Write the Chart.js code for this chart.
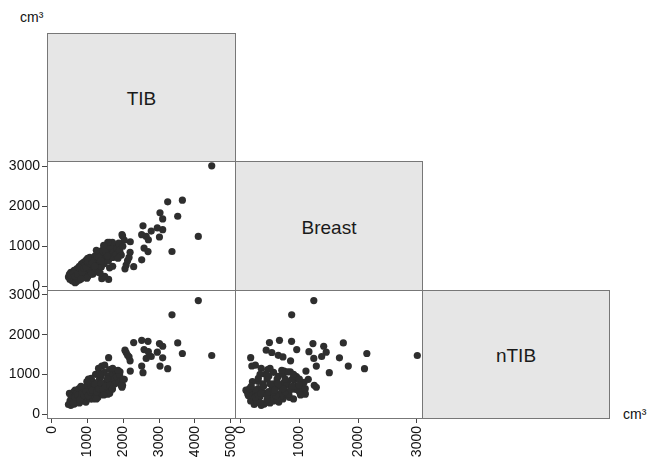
<!DOCTYPE html>
<html>
<head>
<meta charset="utf-8">
<script src="https://cdn.jsdelivr.net/npm/chart.js@4"></script>
<style>
  body { margin: 0; background: #fff; width: 649px; height: 462px; position: relative; overflow: hidden; font-family: 'Liberation Sans', Arial, sans-serif; }
  canvas { position: absolute; left: 0; top: 0; }
  .diag { position: absolute; box-sizing: border-box; background: #e6e6e6; border: 1px solid #777; display: flex; align-items: center; justify-content: center; font-size: 19px; color: #1a1a1a; padding-top: 3px; }
  .unit { position: absolute; font-size: 14px; line-height: 1; color: #111; }
</style>
</head>
<body>
<div class="unit" style="left:20px;top:10px">cm³</div>
<div class="unit" style="left:623px;top:407px">cm³</div>
<div class="diag" style="left:47px;top:33px;width:189px;height:129px">TIB</div>
<div class="diag" style="left:235px;top:161px;width:188px;height:130px">Breast</div>
<div class="diag" style="left:422px;top:290px;width:188px;height:129px">nTIB</div>
<canvas id="p21" width="649" height="462"></canvas>
<canvas id="p31" width="649" height="462"></canvas>
<canvas id="p32" width="649" height="462"></canvas>
<script>
// one entry per subject, volumes in cm3
const tib = [4470, 4095, 3360, 3240, 3650, 3025, 3100, 3520, 3100, 3010, 2950, 2514, 2690, 2580, 2640, 2514, 2700, 2780, 2550, 2195,
  2047, 2080, 2120, 2160, 2190, 2290, 1590, 1400, 1480, 1620, 1980, 2027, 1964, 1860, 1908, 1768, 1823, 1883,
  468, 495, 512, 534, 548, 577, 586, 615, 628, 655, 664, 693, 707, 736, 748, 772, 795, 806, 833, 846,
  874, 888, 915, 927, 956, 968, 994, 1012, 1027, 1055, 1066, 1093, 1108, 1136, 1147, 1173, 1186, 1214, 1226, 1255,
  1264, 1293, 1308, 1336, 1347, 1374, 1385, 1416, 1427, 1455, 1466, 1504, 1526, 1563, 1585, 1624, 1646, 1684, 1706, 1745,
  1766, 1804, 1826, 1874, 1895, 1944, 1986, 1352, 1147, 878, 763, 642, 1004, 1617,
  538, 604, 657, 724, 781, 843, 897, 962, 1018, 1083, 1137, 1204, 1262, 1318, 1383, 1437, 1502, 1558, 1622, 1697,
  1566, 1452, 1248, 1103, 982, 1703, 1852, 818];
const breast = [3010, 1246, 869, 2110, 2150, 1834, 1683, 1749, 1415, 1231, 1457, 661, 867, 955, 1246, 1289, 1163, 1380, 1510, 1112,
  435, 530, 640, 720, 850, 490, 170, 190, 250, 1095, 1254, 1152, 1289, 955, 845, 912, 740, 925,
  230, 300, 170, 350, 250, 130, 320, 220, 400, 90, 280, 120, 440, 200, 350, 500, 260, 410, 560, 300,
  470, 600, 340, 520, 650, 390, 560, 250, 450, 620, 720, 380, 540, 680, 300, 480, 620, 760, 420, 560,
  700, 830, 350, 620, 760, 880, 480, 680, 820, 940, 560, 740, 880, 1000, 640, 800, 950, 1060, 720, 880,
  1020, 800, 950, 1080, 900, 780, 1000, 330, 620, 260, 150, 330, 700, 460,
  280, 330, 250, 300, 450, 350, 450, 480, 600, 560, 580, 500, 760, 720, 640, 860, 880, 760, 1000, 1100,
  1100, 1020, 900, 300, 200, 500, 700, 180];
const ntib = [1475, 2858, 2500, 1142, 1525, 1208, 1417, 1792, 1708, 1775, 1558, 1858, 1833, 1625, 1400, 1208, 1570, 1450, 1042, 1083,
  1610, 1550, 1480, 1440, 1340, 1800, 1420, 1210, 1230, 525, 725, 875, 675, 905, 1063, 856, 1083, 958,
  240, 520, 330, 220, 420, 470, 300, 560, 250, 600, 380, 520, 300, 470, 600, 280, 400, 520, 330, 640,
  420, 380, 560, 480, 300, 700, 420, 600, 880, 500, 380, 760, 650, 450, 820, 560, 700, 500, 1000, 760,
  620, 420, 1150, 880, 560, 680, 960, 720, 500, 620, 1050, 800, 650, 560, 950, 820, 700, 620, 1000, 880,
  760, 1060, 940, 800, 1000, 720, 880, 1000, 380, 460, 640, 440, 520, 1120,
  300, 280, 420, 480, 360, 520, 480, 560, 460, 560, 600, 760, 560, 640, 760, 620, 700, 880, 720, 640,
  500, 480, 380, 900, 820, 1150, 1100, 700];

const tibTicks = [0, 1000, 2000, 3000, 4000, 5000];
const breastTicks = [0, 1000, 2000, 3000];
const ntibTicks = [0, 1000, 2000, 3000];

const FONT = "'Liberation Sans', Arial, sans-serif";
const YW = 47;   // width of left axis
const XH = 44;   // height of bottom axis

// grey frame round each panel
const frame = {
  id: 'frame',
  beforeDatasetsDraw(chart) {
    const a = chart.chartArea, c = chart.ctx;
    c.save();
    c.strokeStyle = '#777';
    c.lineWidth = 1;
    c.strokeRect(Math.round(a.left) + 0.5, Math.round(a.top) + 0.5, Math.round(a.right - a.left), Math.round(a.bottom - a.top));
    c.restore();
  }
};

function axis(min, max, ticks, show, horiz) {
  return {
    type: 'linear',
    min: min,
    max: max,
    display: show,
    afterBuildTicks: s => { s.ticks = ticks.map(v => ({ value: v })); },
    afterFit: s => {
      if (!show) return;
      if (horiz) s.height = XH; else s.width = YW;
    },
    grid: { display: true, drawOnChartArea: false, drawTicks: true, tickLength: 5, color: '#444' },
    border: { display: false },
    ticks: {
      color: '#111',
      font: { family: FONT, size: 14 },
      padding: horiz ? 3 : 2,
      autoSkip: false,
      minRotation: horiz ? 90 : 0,
      maxRotation: horiz ? 90 : 0,
      callback: v => String(v)
    }
  };
}

function panel(id, xs, ys, box, xs_, ys_) {
  new Chart(document.getElementById(id), {
    type: 'scatter',
    data: {
      datasets: [{
        data: xs.map((x, i) => ({ x: x, y: ys[i] })),
        backgroundColor: '#2e2e2e',
        borderWidth: 0,
        pointRadius: 3.6,
        pointHoverRadius: 3.6
      }]
    },
    options: {
      responsive: false,
      animation: false,
      events: [],
      layout: {
        padding: {
          left: ys_.show ? box.l - YW : box.l,
          right: 649 - box.r,
          top: box.t,
          bottom: xs_.show ? 462 - box.b - XH : 462 - box.b
        }
      },
      plugins: { legend: { display: false }, tooltip: { enabled: false } },
      scales: {
        x: axis(xs_.min, xs_.max, xs_.ticks, xs_.show, true),
        y: axis(ys_.min, ys_.max, ys_.ticks, ys_.show, false)
      }
    },
    plugins: [frame]
  });
}

// Breast vs TIB
panel('p21', tib, breast, { l: 47, t: 161, r: 235, b: 290 },
  { min: -131, max: 5120, ticks: tibTicks, show: false },
  { min: -93, max: 3130, ticks: breastTicks, show: true });
// nTIB vs TIB
panel('p31', tib, ntib, { l: 47, t: 290, r: 235, b: 418 },
  { min: -131, max: 5120, ticks: tibTicks, show: true },
  { min: -100, max: 3125, ticks: ntibTicks, show: true });
// nTIB vs Breast
panel('p32', breast, ntib, { l: 235, t: 290, r: 422, b: 418 },
  { min: -97, max: 3090, ticks: breastTicks, show: true },
  { min: -100, max: 3125, ticks: ntibTicks, show: false });
</script>
</body>
</html>
